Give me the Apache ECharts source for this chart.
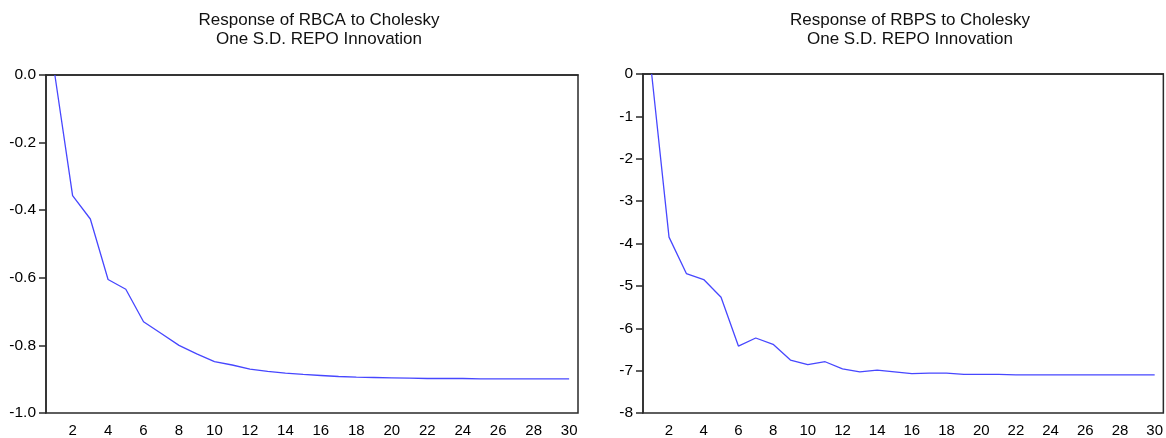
<!DOCTYPE html>
<html>
<head>
<meta charset="utf-8">
<script src="https://cdn.jsdelivr.net/npm/echarts@6/dist/echarts.min.js"></script>
<style>
  html, body { margin: 0; padding: 0; background: #fff; }
  #chart { width: 1166px; height: 438px; }
</style>
</head>
<body>
<div id="chart"></div>
<script>
// periods 1..30
const periods = Array.from({ length: 30 }, (_, i) => String(i + 1))

// Response of RBCA to Cholesky One S.D. REPO Innovation
const rbca = [0, -0.357, -0.426, -0.605, -0.634, -0.730, -0.765, -0.800, -0.825, -0.848,
  -0.858, -0.870, -0.877, -0.882, -0.886, -0.889, -0.892, -0.894, -0.895, -0.896,
  -0.897, -0.898, -0.898, -0.898, -0.899, -0.899, -0.899, -0.899, -0.899, -0.899]

// Response of RBPS to Cholesky One S.D. REPO Innovation
const rbps = [0, -3.85, -4.71, -4.85, -5.27, -6.42, -6.23, -6.38, -6.75, -6.86,
  -6.79, -6.96, -7.03, -6.99, -7.03, -7.07, -7.06, -7.06, -7.09, -7.09,
  -7.09, -7.10, -7.10, -7.10, -7.10, -7.10, -7.10, -7.10, -7.10, -7.10]

const titles = [
  'Response of RBCA to Cholesky\nOne S.D. REPO Innovation',
  'Response of RBPS to Cholesky\nOne S.D. REPO Innovation'
]

const font = 'Liberation Sans, Arial, sans-serif'
const axisColor = '#2a2a2a'
const lineColor = '#4747ff'

// x轴
const makeXAxis = (gridIndex) => ({
  type: 'category',
  gridIndex: gridIndex,
  data: periods,
  boundaryGap: true,
  axisLine: { lineStyle: { color: axisColor, width: 1.5 } },
  axisTick: { interval: 0, length: 7, lineStyle: { color: axisColor, width: 1.5 } },
  axisLabel: {
    interval: (idx) => (idx + 1) % 2 === 0,
    color: '#000',
    fontSize: 15,
    fontFamily: font,
    margin: 10
  },
  splitLine: { show: false }
})

// y轴
const makeYAxis = (gridIndex, min, interval, digits) => ({
  type: 'value',
  gridIndex: gridIndex,
  min: min,
  max: 0,
  interval: interval,
  axisLine: { show: true, lineStyle: { color: axisColor, width: 1.5 } },
  axisTick: { show: true, length: 7, lineStyle: { color: axisColor, width: 1.5 } },
  axisLabel: {
    color: '#000',
    fontSize: 15.5,
    fontFamily: font,
    margin: 10,
    formatter: (v) => v.toFixed(digits)
  },
  splitLine: { show: false }
})

const chart = echarts.init(document.getElementById('chart'))

chart.setOption({
  animation: false,
  title: [
    {
      text: titles[0], left: 314, top: 6, textAlign: 'center',
      textStyle: { fontSize: 17, fontWeight: 'normal', fontFamily: font, color: '#111', lineHeight: 19 }
    },
    {
      text: titles[1], left: 905, top: 6, textAlign: 'center',
      textStyle: { fontSize: 17, fontWeight: 'normal', fontFamily: font, color: '#111', lineHeight: 19 }
    }
  ],
  grid: [
    { left: 46, top: 75, right: 588, bottom: 24, show: true, borderColor: axisColor, borderWidth: 1.5 },
    { left: 643, top: 74, right: 1, bottom: 21, show: true, borderColor: axisColor, borderWidth: 1.5 }
  ],
  xAxis: [makeXAxis(0), makeXAxis(1)],
  yAxis: [makeYAxis(0, -1, 0.2, 1), makeYAxis(1, -8, 1, 0)],
  series: [
    {
      name: 'RBCA',
      type: 'line',
      xAxisIndex: 0,
      yAxisIndex: 0,
      data: rbca,
      symbol: 'none',
      lineStyle: { color: lineColor, width: 1.3 }
    },
    {
      name: 'RBPS',
      type: 'line',
      xAxisIndex: 1,
      yAxisIndex: 1,
      data: rbps,
      symbol: 'none',
      lineStyle: { color: lineColor, width: 1.3 }
    }
  ]
})
</script>
</body>
</html>
